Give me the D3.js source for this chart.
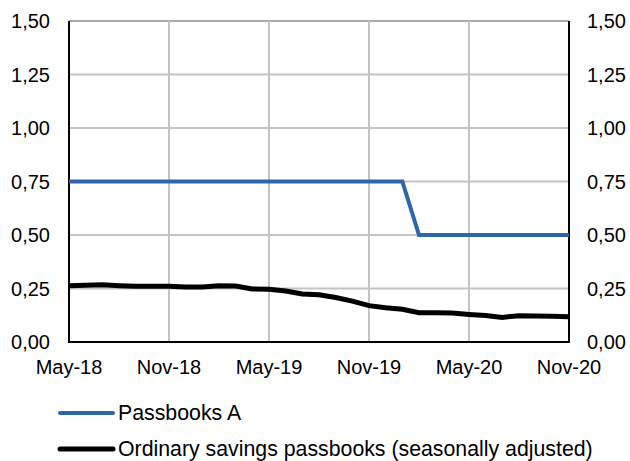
<!DOCTYPE html>
<html>
<head>
<meta charset="utf-8">
<script src="https://cdn.jsdelivr.net/npm/d3@7"></script>
<style>
  body { margin: 0; background: #fff; }
  svg { font-family: "Liberation Sans", Arial, sans-serif; fill: #000; }
</style>
</head>
<body>
<div id="chart"></div>
<script>
// monthly, May-18 .. Nov-20
var months = d3.range(31);
var tickMonths = [0, 6, 12, 18, 24, 30];
var tickLabels = ['May-18', 'Nov-18', 'May-19', 'Nov-19', 'May-20', 'Nov-20'];
var yTicks = [0, 0.25, 0.5, 0.75, 1, 1.25, 1.5];

var passbooksA = [0.75, 0.75, 0.75, 0.75, 0.75, 0.75, 0.75, 0.75, 0.75, 0.75,
  0.75, 0.75, 0.75, 0.75, 0.75, 0.75, 0.75, 0.75, 0.75, 0.75,
  0.75, 0.50, 0.50, 0.50, 0.50, 0.50, 0.50, 0.50, 0.50, 0.50, 0.50];
var ordinary = [0.263, 0.265, 0.267, 0.263, 0.260, 0.260, 0.260, 0.257, 0.257, 0.263,
  0.262, 0.248, 0.246, 0.238, 0.224, 0.221, 0.208, 0.191, 0.170, 0.160,
  0.153, 0.137, 0.137, 0.135, 0.129, 0.124, 0.115, 0.123, 0.121, 0.120, 0.118];

var BLUE = '#2e64a8';
var GRID = '#c4c4c4';
var FONT = '20px';

var width = 630, height = 461;
var margin = { top: 21, right: 61, bottom: 119, left: 69 };

var svg = d3.select('#chart').append('svg')
  .attr('width', width)
  .attr('height', height);

var x = d3.scaleLinear().domain([0, 30]).range([margin.left, width - margin.right]);
var y = d3.scaleLinear().domain([0, 1.5]).range([height - margin.bottom, margin.top]);
var fmt = function(d) { return d3.format('.2f')(d).replace('.', ','); };

// grid
svg.append('g').selectAll('line.h')
  .data(yTicks.slice(1))
  .enter().append('line')
  .attr('x1', x(0)).attr('x2', x(30))
  .attr('y1', d => y(d)).attr('y2', d => y(d))
  .attr('stroke', d => d === 1.5 ? '#555' : GRID)
  .attr('stroke-width', d => d === 1.5 ? 1 : 2);

svg.append('g').selectAll('line.v')
  .data(tickMonths.slice(1, -1))
  .enter().append('line')
  .attr('x1', d => x(d)).attr('x2', d => x(d))
  .attr('y1', y(0)).attr('y2', y(1.5))
  .attr('stroke', GRID)
  .attr('stroke-width', 2);

// axes frame
svg.append('line').attr('x1', x(0)).attr('x2', x(0)).attr('y1', y(0)).attr('y2', y(1.5))
  .attr('stroke', '#000').attr('stroke-width', 2);
svg.append('line').attr('x1', x(30)).attr('x2', x(30)).attr('y1', y(0)).attr('y2', y(1.5))
  .attr('stroke', '#000').attr('stroke-width', 2);
svg.append('line').attr('x1', x(0) - 1).attr('x2', x(30) + 1).attr('y1', y(0)).attr('y2', y(0))
  .attr('stroke', '#000').attr('stroke-width', 2);

// tick labels
svg.append('g').selectAll('text')
  .data(yTicks).enter().append('text')
  .attr('x', 50).attr('y', d => y(d) + 7)
  .attr('text-anchor', 'end')
  .attr('font-size', FONT)
  .text(fmt);

svg.append('g').selectAll('text')
  .data(yTicks).enter().append('text')
  .attr('x', 587).attr('y', d => y(d) + 7)
  .attr('font-size', FONT)
  .text(fmt);

svg.append('g').selectAll('text')
  .data(tickMonths).enter().append('text')
  .attr('x', d => x(d)).attr('y', 374)
  .attr('text-anchor', 'middle')
  .attr('font-size', FONT)
  .text((d, i) => tickLabels[i]);

// lines
var line = d3.line().x((d, i) => x(months[i])).y(d => y(d));

svg.append('path').datum(ordinary)
  .attr('d', line).attr('fill', 'none')
  .attr('stroke', '#000').attr('stroke-width', 5);

svg.append('path').datum(passbooksA)
  .attr('d', line).attr('fill', 'none')
  .attr('stroke', BLUE).attr('stroke-width', 4);

// legend
var legend = [
  { name: 'Passbooks A', color: BLUE, w: 4, y: 413 },
  { name: 'Ordinary savings passbooks (seasonally adjusted)', color: '#000', w: 5, y: 449 }
];
var lg = svg.append('g').selectAll('g').data(legend).enter().append('g');
lg.append('line')
  .attr('x1', 60).attr('x2', 113)
  .attr('y1', d => d.y).attr('y2', d => d.y)
  .attr('stroke', d => d.color).attr('stroke-width', d => d.w)
  .attr('stroke-linecap', 'round');
lg.append('text')
  .attr('x', 118).attr('y', d => d.y + 7)
  .attr('font-size', '21.3px')
  .text(d => d.name);
</script>
</body>
</html>
